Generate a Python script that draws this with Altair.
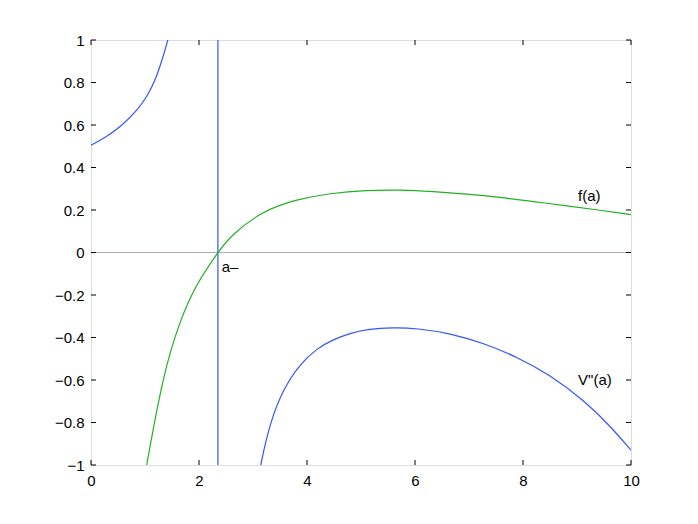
import altair as alt
import pandas as pd

# ---- data ----
blue_left_x = [0.0, 0.253, 0.562, 0.87, 1.056, 1.18, 1.30, 1.426, 1.46]
blue_left_y = [0.505, 0.539, 0.594, 0.672, 0.743, 0.805, 0.892, 1.0, 1.04]

blue_right_x = [3.11, 3.14, 3.31, 3.56, 3.87, 4.18, 4.49, 4.80, 5.1, 5.6, 6.03, 6.65, 7.27, 7.88, 8.5, 9.12, 9.61, 10.0]
blue_right_y = [-1.05, -1.0, -0.804, -0.642, -0.525, -0.452, -0.409, -0.380, -0.362, -0.352, -0.357, -0.380, -0.427, -0.490, -0.576, -0.694, -0.815, -0.93]

green_x = [1.0, 1.03, 1.34, 1.648, 1.957, 2.35, 2.574, 3.19, 3.81, 4.43, 5.1, 5.72, 6.34, 6.96, 7.57, 8.19, 8.82, 9.43, 10.0]
green_y = [-1.05, -1.0, -0.569, -0.318, -0.145, 0.0, 0.078, 0.198, 0.25, 0.279, 0.293, 0.295, 0.287, 0.275, 0.26, 0.24, 0.219, 0.199, 0.178]

a_minus = 2.35

label_text = ["f(a)", "V\"(a)", "a\u2013"]
label_x = [9.02, 9.02, 2.42]
label_y = [0.266, -0.6, -0.07]

x_ticks = [0, 2, 4, 6, 8, 10]
y_ticks = [-1, -0.8, -0.6, -0.4, -0.2, 0, 0.2, 0.4, 0.6, 0.8, 1]

BLUE = "#3355ff"
GREEN = "#22b022"
FONT = "Liberation Sans"

W, H = 540, 425

xs = alt.Scale(domain=[0, 10], nice=False, zero=False)
ys = alt.Scale(domain=[-1, 1], nice=False, zero=False)

xaxis = alt.Axis(values=x_ticks, tickSize=0, labelPadding=8, grid=False,
                 domain=False, labelFontSize=15, labelFont=FONT, labelColor="black",
                 title=None, labelFlush=False, format="d")
yaxis = alt.Axis(values=y_ticks, tickSize=0, labelPadding=7, grid=False,
                 domain=False, labelFontSize=15, labelFont=FONT, labelColor="black",
                 title=None, labelFlush=False,
                 labelExpr="datum.value == 0 ? '0' : (datum.value < 0 ? '\u2212' : '') + format(abs(datum.value), '.1~f')")

bl = pd.DataFrame({"x": blue_left_x, "y": blue_left_y})
br = pd.DataFrame({"x": blue_right_x, "y": blue_right_y})
gr = pd.DataFrame({"x": green_x, "y": green_y})
lab = pd.DataFrame({"t": label_text, "x": label_x, "y": label_y})
xt = pd.DataFrame({"v": x_ticks})
yt = pd.DataFrame({"v": y_ticks})
zero = pd.DataFrame({"x": [0.0], "x2": [10.0], "y": [0.0]})
vert = pd.DataFrame({"x": [a_minus], "y": [-1.0], "y2": [1.0]})

base_x = alt.X("x:Q", scale=xs, axis=xaxis)
base_y = alt.Y("y:Q", scale=ys, axis=yaxis)

left_line = alt.Chart(bl).mark_line(color=BLUE, strokeWidth=1.2, interpolate="basis", clip=True).encode(x=base_x, y=base_y)
right_line = alt.Chart(br).mark_line(color=BLUE, strokeWidth=1.2, interpolate="basis", clip=True).encode(x="x:Q", y="y:Q")
green_line = alt.Chart(gr).mark_line(color=GREEN, strokeWidth=1.2, interpolate="basis", clip=True).encode(x="x:Q", y="y:Q")

zero_gray = alt.Chart(zero).mark_rule(color="#b0b0b0", strokeWidth=1).encode(x="x:Q", x2="x2:Q", y="y:Q")
zero_orange = alt.Chart(zero).mark_rule(color="#e0a060", strokeWidth=1, strokeDash=[1, 3]).encode(x="x:Q", x2="x2:Q", y="y:Q")
zero_blue = alt.Chart(zero).mark_rule(color="#8899ff", strokeWidth=1, strokeDash=[1, 3], strokeDashOffset=2).encode(x="x:Q", x2="x2:Q", y="y:Q")

vline = alt.Chart(vert).mark_rule(color=BLUE, strokeWidth=1.2).encode(x="x:Q", y="y:Q", y2="y2:Q")

labels = alt.Chart(lab).mark_text(align="left", baseline="middle", fontSize=15, font=FONT, color="black").encode(
    x="x:Q", y="y:Q", text="t:N")

# inward tick marks on all four sides
tk = 5
xb = alt.Chart(xt).mark_rule(color="black").encode(x=alt.X("v:Q"), y=alt.value(H), y2=alt.value(H - tk))
xtp = alt.Chart(xt).mark_rule(color="black").encode(x=alt.X("v:Q"), y=alt.value(0), y2=alt.value(tk))
yl = alt.Chart(yt).mark_rule(color="black").encode(y=alt.Y("v:Q"), x=alt.value(0), x2=alt.value(tk))
yr = alt.Chart(yt).mark_rule(color="black").encode(y=alt.Y("v:Q"), x=alt.value(W), x2=alt.value(W - tk))

chart = alt.layer(
    left_line, zero_gray, zero_orange, zero_blue, vline, right_line, green_line, labels, xb, xtp, yl, yr
).properties(
    width=W, height=H,
    autosize=alt.AutoSizeParams(type="none"),
    padding={"left": 83, "top": 32, "right": 59, "bottom": 51},
).configure_view(
    stroke="black", strokeWidth=1
).configure(background="white")

chart.save("out.html", embed_options={"renderer": "svg", "actions": False})
